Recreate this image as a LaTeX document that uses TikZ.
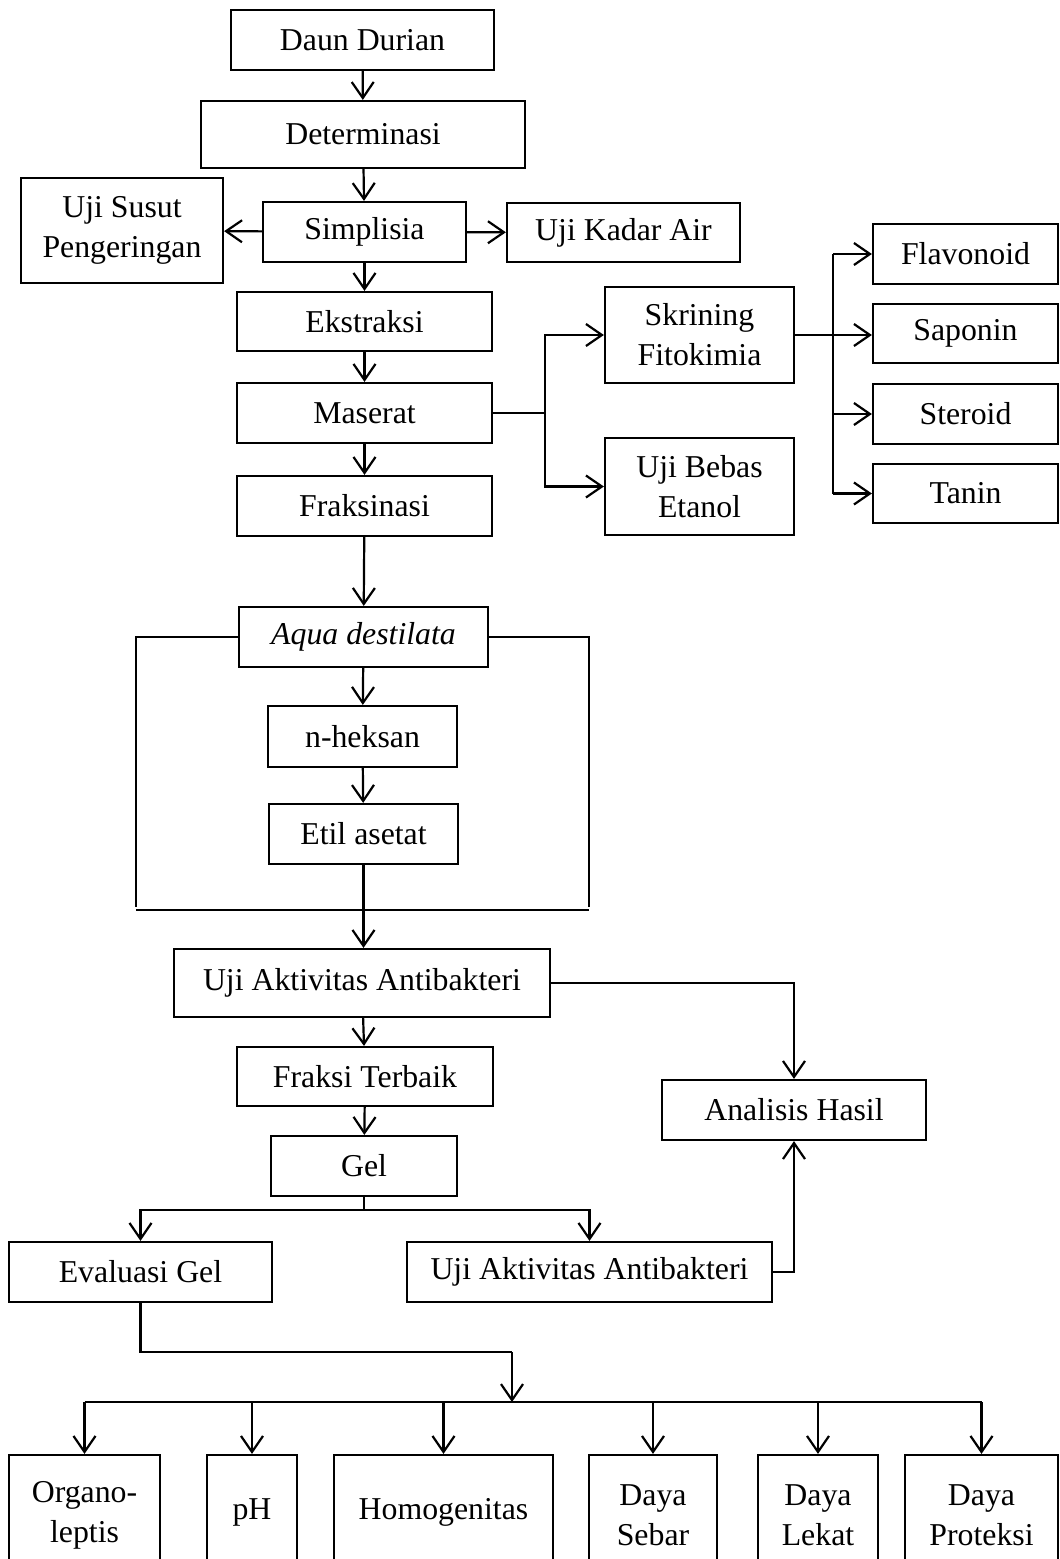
\documentclass[tikz,border=0pt]{standalone}
\usepackage{fontspec}
\setmainfont{Liberation Serif}
\usetikzlibrary{arrows.meta}
\begin{document}
\begin{tikzpicture}[x=1pt,y=-1pt,
  every node/.style={font=\fontsize{31.8}{40}\selectfont},
  box/.style={draw, line width=2.2pt, inner sep=0pt, align=center, rectangle},
  ln/.style={line width=2.2pt},
  arr/.style={line width=2.2pt, -{Straight Barb[length=16pt,width=22pt,line width=2.2pt]}}]
\useasboundingbox (0,0) rectangle (1060,1559);
\clip (0,0) rectangle (1060,1559);
\fill[white] (0,0) rectangle (1060,1559);
% main column
\node[box, minimum width=263pt, minimum height=60pt] (dd) at (362.5,40) {Daun Durian};
\node[box, minimum width=324pt, minimum height=67pt] (det) at (363,134.5) {Determinasi};
\node[box, minimum width=202pt, minimum height=105pt] (sus) at (122,230.5) {Uji Susut\\Pengeringan};
\node[box, minimum width=203pt, minimum height=60pt] (sim) at (364.5,232) {Simplisia};
\node[box, minimum width=233pt, minimum height=59pt] (kad) at (623.5,232.5) {Uji Kadar Air};
\node[box, minimum width=255pt, minimum height=59pt] (eks) at (364.5,321.5) {Ekstraksi};
\node[box, minimum width=255pt, minimum height=60pt] (mas) at (364.5,413) {Maserat};
\node[box, minimum width=255pt, minimum height=60pt] (fra) at (364.5,506) {Fraksinasi};
\node[box, minimum width=189pt, minimum height=96pt] (skr) at (699.5,335) {Skrining\\Fitokimia};
\node[box, minimum width=189pt, minimum height=97pt] (beb) at (699.5,486.5) {Uji Bebas\\Etanol};
\node[box, minimum width=185pt, minimum height=60pt] (fla) at (965.5,254) {Flavonoid};
\node[box, minimum width=185pt, minimum height=59pt] (sap) at (965.5,333.5) {Saponin};
\node[box, minimum width=185pt, minimum height=60pt] (ste) at (965.5,414) {Steroid};
\node[box, minimum width=185pt, minimum height=59pt] (tan) at (965.5,493.5) {Tanin};
\node[box, minimum width=249pt, minimum height=60pt] (aqu) at (363.5,637) {\textit{Aqua destilata}};
\node[box, minimum width=189pt, minimum height=61pt] (nhe) at (362.5,736.5) {n-heksan};
\node[box, minimum width=189pt, minimum height=60pt] (eti) at (363.5,834) {Etil asetat};
\node[box, minimum width=376pt, minimum height=68pt] (ua1) at (362,983) {Uji Aktivitas Antibakteri};
\node[box, minimum width=264pt, minimum height=60pt] (ana) at (794,1110) {Analisis Hasil};
\node[box, minimum width=256pt, minimum height=59pt] (ft) at (365,1076.5) {Fraksi Terbaik};
\node[box, minimum width=186pt, minimum height=60pt] (gel) at (364,1166) {Gel};
\node[box, minimum width=263pt, minimum height=60pt] (evg) at (140.5,1272) {Evaluasi Gel};
\node[box, minimum width=365pt, minimum height=60pt] (ua2) at (589.5,1272) {Uji Aktivitas Antibakteri};
% bottom row
\node[box, minimum width=151pt, minimum height=120pt] (org) at (84.5,1515) {Organo-\\leptis};
\node[box, minimum width=90pt, minimum height=114pt] (ph) at (252,1512) {pH};
\node[box, minimum width=219pt, minimum height=114pt] (hom) at (443.5,1512) {Homogenitas};
\node[box, minimum width=128pt, minimum height=120pt] (seb) at (653,1515) {Daya\\Sebar};
\node[box, minimum width=120pt, minimum height=120pt] (lek) at (818,1515) {Daya\\Lekat};
\node[box, minimum width=153pt, minimum height=120pt] (pro) at (981.5,1515) {Daya\\Proteksi};
% coordinates
\coordinate (b1) at (545,413);
\coordinate (b2) at (833,335);
\coordinate (bl) at (136,637);
\coordinate (br) at (589,637);
\coordinate (bl2) at (136,907);
\coordinate (br2) at (589,907);
\coordinate (bb1) at (136,910);
\coordinate (bb2) at (589,910);
\coordinate (g1) at (364,1210);
\coordinate (e1) at (512,1352);
\coordinate (e2) at (512,1402);
% connectors top
\draw[arr] (dd) -- (det);
\draw[arr] (det) -- (sim);
\draw[arr] (sim) -- (sus);
\draw[arr] (sim) -- (kad);
\draw[arr] (sim) -- (eks);
\draw[arr] (eks) -- (mas);
\draw[arr] (mas) -- (fra);
\draw[ln] (mas.east) -- (b1);
\draw[arr] (b1) |- (skr.west);
\draw[arr] (b1) |- (beb.west);
\draw[arr] (skr.east) -- (skr.east -| sap.west);
\draw[ln] (b2 |- fla.west) -- (b2 |- tan.west);
\draw[arr] (b2 |- fla.west) -- (fla.west);
\draw[arr] (b2 |- ste.west) -- (ste.west);
\draw[arr] (b2 |- tan.west) -- (tan.west);
% fraction
\draw[arr] (fra) -- (aqu);
\draw[ln] (aqu.west) -- (bl) -- (bl2);
\draw[ln] (aqu.east) -- (br) -- (br2);
\draw[ln] (bb1) -- (bb2);
\draw[arr] (aqu) -- (nhe);
\draw[arr] (nhe) -- (eti);
\draw[arr] (eti.south) -- (eti.south |- ua1.north);
% antibacterial
\draw[arr] (ua1.east) -| (ana.north);
\draw[arr] (ua1) -- (ft);
\draw[arr] (ft) -- (gel);
\draw[ln] (gel.south) -- (g1);
\draw[arr] (g1) -| (evg.north);
\draw[arr] (g1) -| (ua2.north);
\draw[arr] (ua2.east) -| (ana.south);
% evaluation
\draw[ln] (evg.south) |- (e1);
\draw[arr] (e1) -- (e2);
\draw[ln] (org.north |- e2) -- (pro.north |- e2);
\foreach \n in {org,ph,hom,seb,lek,pro}
  \draw[arr] (\n.north |- e2) -- (\n.north);
\end{tikzpicture}
\end{document}
